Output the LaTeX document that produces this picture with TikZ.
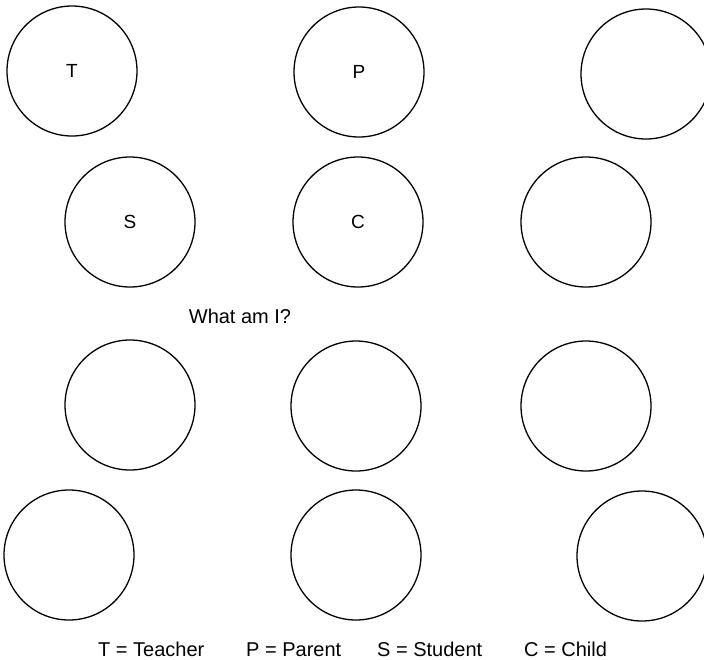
\documentclass[tikz,border=0pt]{standalone}
\usepackage{fontspec}
\setmainfont{Liberation Sans}
\begin{document}
\begin{tikzpicture}[x=1pt,y=-1pt,
  ring/.style={circle,draw=black,line width=1.3pt,minimum size=130pt,inner sep=0pt,font=\fontsize{19}{22}\selectfont},
  lbl/.style={font=\fontsize{20}{24}\selectfont,inner sep=0pt}]
\useasboundingbox (0,0) rectangle (704,659);
\clip (0,0) rectangle (704,659);
% row 1
\node[ring] (t) at (72,71) {T};
\node[ring] (p) at (359,72) {P};
\node[ring] (r1) at (646,74) {};
% row 2
\node[ring] (s) at (130,222) {S};
\node[ring] (c) at (358,222) {C};
\node[ring] (r2) at (586,222) {};
% question
\node[lbl,anchor=base] (q) at (240,323) {What am I?};
% row 3
\node[ring] (a3) at (130,405) {};
\node[ring] (b3) at (356,406) {};
\node[ring] (c3) at (586,406) {};
% row 4
\node[ring] (a4) at (69,555) {};
\node[ring] (b4) at (356,555) {};
\node[ring] (c4) at (642,556) {};
% legend
\node[lbl,anchor=base west] (lt) at (98,656) {T = Teacher};
\node[lbl,anchor=base west] (lp) at (246,656) {P = Parent};
\node[lbl,anchor=base west] (ls) at (377,656) {S = Student};
\node[lbl,anchor=base west] (lc) at (524,656) {C = Child};
\end{tikzpicture}
\end{document}
